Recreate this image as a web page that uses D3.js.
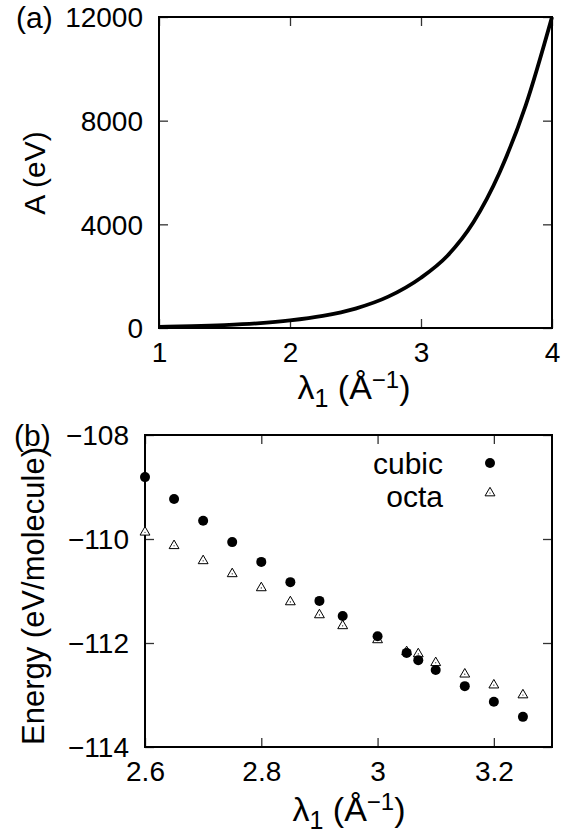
<!DOCTYPE html>
<html>
<head>
<meta charset="utf-8">
<script src="https://cdn.jsdelivr.net/npm/d3@7"></script>
<style>
  body { margin: 0; background: #fff; }
  text { font-family: "Liberation Sans", Arial, sans-serif; fill: #000; }
</style>
</head>
<body>
<script>
// panel (a): A vs lambda_1
const lambdaA = [1, 1.25, 1.5, 1.75, 2, 2.25, 2.5, 2.75, 3, 3.2, 3.4, 3.6, 3.8, 4]
const valuesA = [43, 69, 112, 180, 290, 465, 750, 1210, 1940, 2780, 4080, 6000, 8600, 12000]
const ticksAx = [1, 2, 3, 4]
const ticksAy = [0, 4000, 8000, 12000]

// panel (b): energy per molecule
const lambdaB = [2.6, 2.65, 2.7, 2.75, 2.8, 2.85, 2.9, 2.94, 3.0, 3.05, 3.07, 3.1, 3.15, 3.2, 3.25]
const cubic = [-108.81, -109.23, -109.65, -110.06, -110.44, -110.83, -111.19, -111.48, -111.87, -112.19, -112.33, -112.52, -112.83, -113.13, -113.42]
const octa = [-109.87, -110.13, -110.42, -110.67, -110.94, -111.21, -111.46, -111.67, -111.94, -112.17, -112.21, -112.38, -112.6, -112.81, -113.0]
const ticksBx = [2.6, 2.8, 3, 3.2]
const ticksBy = [-114, -112, -110, -108]
const series = ['cubic', 'octa']

var width = 565
var height = 833
var fs = 28

var svg = d3.select('body').append('svg')
    .attr('width', width)
    .attr('height', height)

const minus = s => String(s).replace('-', '\u2212')

// framed panel with inward ticks on all four sides
function drawFrame (x, y, xt, yt) {
  var g = svg.append('g')
  var [x0, x1] = x.range()
  var [y0, y1] = y.range()

  g.append('g')
    .attr('class', 'ax-bottom')
    .attr('transform', 'translate(0,' + y0 + ')')
    .call(d3.axisBottom(x).tickValues(xt).tickSize(-9).tickSizeOuter(0).tickFormat(d => minus(d)))
  g.append('g')
    .attr('transform', 'translate(0,' + y1 + ')')
    .call(d3.axisTop(x).tickValues(xt).tickSize(-9).tickSizeOuter(0).tickFormat(''))
  g.append('g')
    .attr('class', 'ax-left')
    .attr('transform', 'translate(' + x0 + ',0)')
    .call(d3.axisLeft(y).tickValues(yt).tickSize(-9).tickSizeOuter(0).tickFormat(d => minus(d)))
  g.append('g')
    .attr('transform', 'translate(' + x1 + ',0)')
    .call(d3.axisRight(y).tickValues(yt).tickSize(-9).tickSizeOuter(0).tickFormat(''))

  g.selectAll('.domain').remove()
  g.selectAll('.tick line').attr('stroke', '#333').attr('stroke-width', 1.3)
  g.selectAll('.tick text').style('font-size', fs + 'px').attr('fill', '#000')
  g.selectAll('.ax-bottom .tick text').attr('dy', null).attr('y', 34)
  g.selectAll('.ax-left .tick text').attr('x', -16).attr('dy', '0.35em')

  g.append('rect')
    .attr('x', x0).attr('y', y1)
    .attr('width', x1 - x0).attr('height', y0 - y1)
    .attr('fill', 'none')
    .attr('stroke', '#000')
    .attr('stroke-width', 2)
  return g
}

function xTitle (g, cx, cy) {
  var t = g.append('text')
    .attr('x', cx).attr('y', cy)
    .attr('text-anchor', 'middle')
    .style('font-size', '34px')
  t.append('tspan').text('\u03bb')
  t.append('tspan').text('1').style('font-size', '25px').attr('dy', 8)
  t.append('tspan').text(' (\u00c5').attr('dy', -8)
  t.append('tspan').text('\u22121').style('font-size', '24px').attr('dy', -11)
  t.append('tspan').text(')').attr('dy', 11)
}

function yTitle (g, cx, cy, label, size) {
  g.append('text')
    .attr('transform', 'translate(' + cx + ',' + cy + ') rotate(-90)')
    .attr('text-anchor', 'middle')
    .style('font-size', size + 'px')
    .text(label)
}

// ---------------- panel (a)
var xa = d3.scaleLinear().domain([1, 4]).range([159, 552])
var ya = d3.scaleLinear().domain([0, 12000]).range([328, 17])
var ga = drawFrame(xa, ya, ticksAx, ticksAy)

var line = d3.line()
    .x((d, i) => xa(lambdaA[i]))
    .y(d => ya(d))
    .curve(d3.curveMonotoneX)

ga.append('path')
  .datum(valuesA)
  .attr('d', line)
  .attr('fill', 'none')
  .attr('stroke', '#000')
  .attr('stroke-width', 3.8)

xTitle(ga, 354, 399)
yTitle(ga, 45, 173, 'A (eV)', 30)
ga.append('text').attr('x', 16).attr('y', 28).style('font-size', '30px').text('(a)')

// ---------------- panel (b)
var xb = d3.scaleLinear().domain([2.6, 3.3]).range([145, 552])
var yb = d3.scaleLinear().domain([-114, -108]).range([747, 435])
var gb = drawFrame(xb, yb, ticksBx, ticksBy)

var tri = d3.symbol().type(d3.symbolTriangle).size(42)

function drawTri (sel) {
  sel.append('path')
    .attr('d', tri)
    .attr('fill', '#fff')
    .attr('stroke', '#000')
    .attr('stroke-width', 1)
  sel.append('circle')
    .attr('r', 0.6)
    .attr('fill', '#000')
}

var octaPts = gb.selectAll('g.octa')
  .data(octa).enter()
  .append('g')
  .attr('class', 'octa')
  .attr('transform', (d, i) => 'translate(' + xb(lambdaB[i]) + ',' + yb(d) + ')')
drawTri(octaPts)

gb.selectAll('circle.cubic')
  .data(cubic).enter()
  .append('circle')
  .attr('class', 'cubic')
  .attr('cx', (d, i) => xb(lambdaB[i]))
  .attr('cy', d => yb(d))
  .attr('r', 5)
  .attr('fill', '#000')

// legend
var legend = gb.selectAll('g.legend')
  .data(series).enter()
  .append('g')
  .attr('class', 'legend')
  .attr('transform', (d, i) => 'translate(0,' + (463 + i * 33) + ')')

legend.append('text')
  .attr('x', 443)
  .attr('dy', '0.35em')
  .attr('text-anchor', 'end')
  .style('font-size', '30px')
  .text(d => d)

legend.filter(d => d === 'cubic').append('circle')
  .attr('cx', 490).attr('r', 5).attr('fill', '#000')
drawTri(legend.filter(d => d === 'octa').append('g').attr('transform', 'translate(490,-3)'))

xTitle(gb, 349, 821)
yTitle(gb, 44, 596, 'Energy (eV/molecule)', 31)
gb.append('text').attr('x', 14).attr('y', 446).style('font-size', '30px').text('(b)')
</script>
</body>
</html>
